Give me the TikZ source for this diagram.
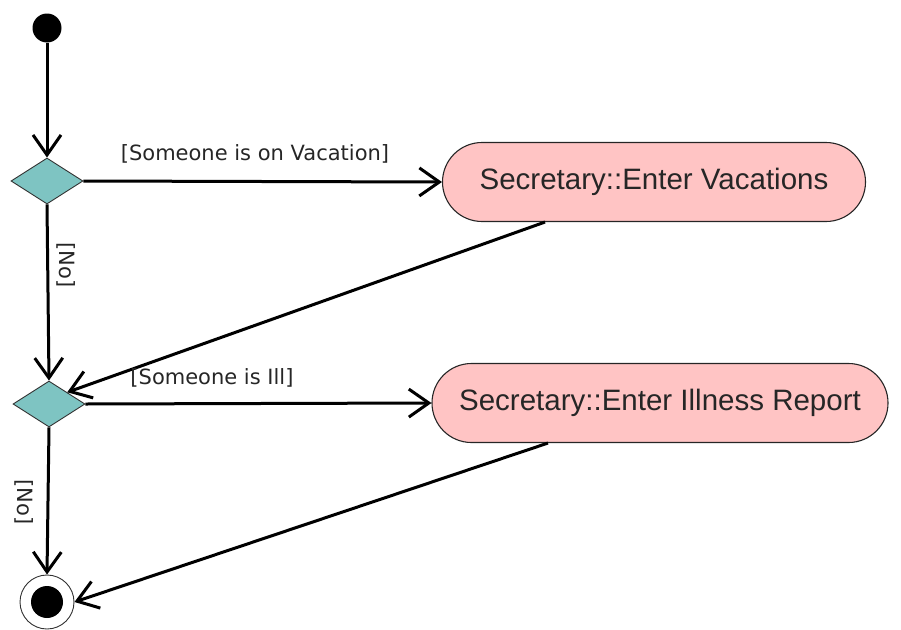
\documentclass[tikz,border=0pt]{standalone}
\usepackage{fontspec}
\setmainfont{Liberation Sans}
\newfontfamily\guardfont{DejaVu Sans}
\usetikzlibrary{arrows.meta,shapes.geometric,shapes.misc}
\definecolor{decfill}{RGB}{126,196,194}
\definecolor{actfill}{RGB}{255,196,196}
\tikzset{
  flow/.style={line width=3pt,-{Straight Barb[length=20pt,width=28pt,line width=3pt]}},
  decision/.style={diamond,aspect=1.55,draw=black!80,line width=0.9pt,fill=decfill,minimum width=72pt,minimum height=46pt,inner sep=0pt},
  action/.style={rounded rectangle,draw=black!85,line width=1.1pt,fill=actfill,minimum height=79pt,inner sep=0pt,font=\fontsize{29.5}{32}\selectfont,text=black!85},
  guard/.style={font=\guardfont\fontsize{21}{24}\selectfont,text=black!85,inner sep=1pt},
}
\begin{document}
\begin{tikzpicture}[x=1pt,y=-1pt]
\useasboundingbox (0,0) rectangle (901,629);
% start and end states
\node[circle,fill=black,minimum size=29pt,inner sep=0pt] (start) at (47,28) {};
\node[circle,draw=black!80,line width=0.9pt,fill=white,minimum size=54pt,inner sep=0pt] (final) at (47,602) {};
\node[circle,fill=black,minimum size=32pt,inner sep=0pt] (finaldot) at (47,602) {};
% decisions
\node[decision] (d1) at (47,181) {};
\node[decision] (d2) at (49,404) {};
% actions
\node[action,minimum width=423pt] (vac) at (654,182) {Secretary::Enter Vacations};
\node[action,minimum width=456pt] (ill) at (660,403) {Secretary::Enter Illness Report};
% transitions
\draw[flow] (start) -- (d1.north);
\draw[flow] (d1.east) -- (vac.west);
\draw[flow] (d1.south) -- (d2.north);
\draw[flow] (vac.south -| 545,0) -- (d2.north east);
\draw[flow] (d2.east) -- (ill.west);
\draw[flow] (d2.south) -- (final.north);
\draw[flow] (ill.south -| 548,0) -- (final.east);
% guard labels
\node[guard] (g1) at (255,154) {[Someone is on Vacation]};
\node[guard] (g2) at (212,378) {[Someone is Ill]};
\node[guard,rotate=-90] (g3) at (66,265) {[No]};
\node[guard,rotate=-90] (g4) at (24,502) {[No]};
\end{tikzpicture}
\end{document}
